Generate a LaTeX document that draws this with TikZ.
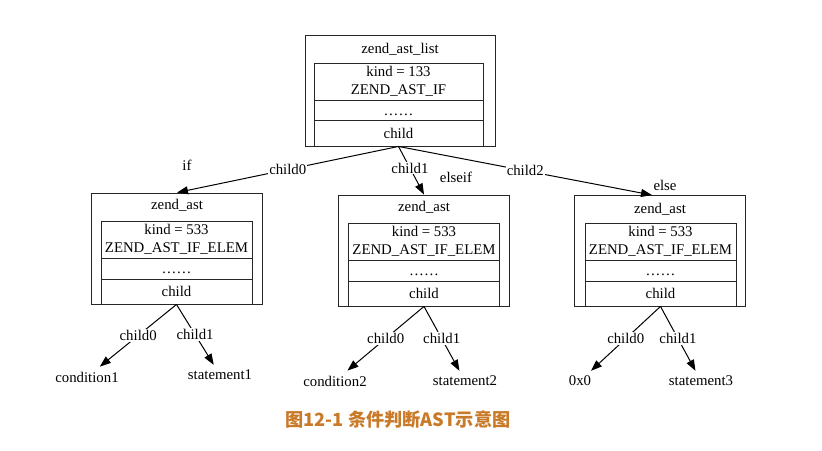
\documentclass[tikz,border=0pt]{standalone}
\usepackage{fontspec}
\setmainfont{Liberation Serif}
\newfontfamily\cjkfont{Noto Sans CJK SC}
\usepackage{xcolor}
\usepackage{tikz}
\usetikzlibrary{arrows.meta}
\definecolor{captionorange}{RGB}{200,122,40}
\newcommand{\moredots}{\raisebox{-5pt}[0pt][0pt]{……}}
\tikzset{
  myarrow/.style={
    draw=black,
    line width=1pt,
    -{Triangle[length=11pt,width=8pt]},
  },
  myouter/.style={
    draw=black!85,
    shape=rectangle,
    line width=0.9pt,
    inner sep=0pt,
    minimum width=171pt,
    minimum height=111pt,
  },
  myrow/.style={
    draw=black!85,
    shape=rectangle,
    line width=0.9pt,
    inner sep=0pt,
    align=center,
    minimum width=151pt,
  },
  mylabel/.style={
    fill=white,
    inner sep=1pt,
  },
  myleaf/.style={
    inner sep=5pt,
  }
}

\begin{document}
\begin{tikzpicture}[x=1pt, y=-1pt, font=\fontsize{14.8}{18}\selectfont]
    \useasboundingbox (0,0) rectangle (822,450);

    \node [myouter, minimum width=190pt] (list) at (400,90.5) {};
    \node (listname) at (400,49) {zend\_ast\_list};
    \node [myrow, minimum width=169pt, minimum height=37pt] (listkind) at (398.5,81.5) {kind = 133\\ZEND\_AST\_IF};
    \node [myrow, minimum width=169pt, minimum height=20pt] (listmore) at (398.5,110) {\moredots};
    \node [myrow, minimum width=169pt, minimum height=26pt] (listchild) at (398.5,133) {child};

    \node [myouter] (ifelem) at (177,248.5) {};
    \node (ifname) at (177,205) {zend\_ast};
    \node [myrow, minimum height=37pt] (ifkind) at (176.5,239.5) {kind = 533\\ZEND\_AST\_IF\_ELEM};
    \node [myrow, minimum height=21pt] (ifmore) at (176.5,268.5) {\moredots};
    \node [myrow, minimum height=25pt] (ifchild) at (176.5,291.5) {child};

    \node [myouter] (elseifelem) at (424,250.5) {};
    \node (elseifname) at (424,207) {zend\_ast};
    \node [myrow, minimum height=37pt] (elseifkind) at (424,241.5) {kind = 533\\ZEND\_AST\_IF\_ELEM};
    \node [myrow, minimum height=21pt] (elseifmore) at (424,270.5) {\moredots};
    \node [myrow, minimum height=25pt] (elseifchild) at (424,293.5) {child};

    \node [myouter] (elseelem) at (660,251) {};
    \node (elsename) at (660,209) {zend\_ast};
    \node [myrow, minimum height=37pt] (elsekind) at (660.5,241.5) {kind = 533\\ZEND\_AST\_IF\_ELEM};
    \node [myrow, minimum height=21pt] (elsemore) at (660.5,270.5) {\moredots};
    \node [myrow, minimum height=25pt] (elsechild) at (660.5,293.5) {child};

    \draw [myarrow] (listchild.south) -- node [mylabel] {child0} (ifelem.north);
    \draw [myarrow] (listchild.south) -- node [mylabel, pos=0.45] {child1} (elseifelem.north);
    \draw [myarrow] (listchild.south) -- node [mylabel] {child2} ([xshift=-8pt]elseelem.north);
    \node (iflabel) at (187,165) {if};
    \node (elseiflabel) at (456,177) {elseif};
    \node (elselabel) at (665,185) {else};

    \node [myleaf] (cond1) at (87,377) {condition1};
    \node [myleaf] (stmt1) at (220,375) {statement1};
    \draw [myarrow] (ifchild.south) -- node [mylabel] {child0} (cond1);
    \draw [myarrow] (ifchild.south) -- node [mylabel] {child1} (stmt1);

    \node [myleaf] (cond2) at (335,381) {condition2};
    \node [myleaf] (stmt2) at (465,381) {statement2};
    \draw [myarrow] (elseifchild.south) -- node [mylabel] {child0} (cond2);
    \draw [myarrow] (elseifchild.south) -- node [mylabel] {child1} (stmt2);

    \node [myleaf] (zero) at (580,381) {0x0};
    \node [myleaf] (stmt3) at (701,381) {statement3};
    \draw [myarrow] (elsechild.south) -- node [mylabel] {child0} (zero);
    \draw [myarrow] (elsechild.south) -- node [mylabel] {child1} (stmt3);

    \node [text=captionorange, font=\cjkfont\bfseries\fontsize{18.2}{21}\selectfont] (caption) at (398,420) {图12-1 条件判断AST示意图};

  \end{tikzpicture}
\end{document}
